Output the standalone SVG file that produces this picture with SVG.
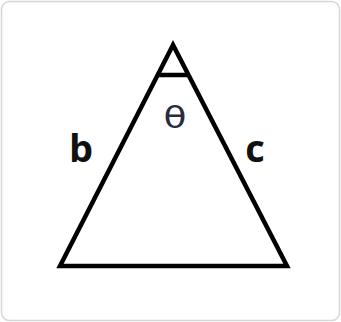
<svg xmlns="http://www.w3.org/2000/svg" width="341" height="322" viewBox="0 0 341 322">
<style>
.edge{fill:none;stroke:#000;stroke-width:4.5;stroke-linejoin:miter;stroke-linecap:square}
.lbl{font-family:"Open Sans","DejaVu Sans",sans-serif;font-weight:bold;fill:#111}
.th{font-family:"DejaVu Sans",sans-serif;fill:#2a2a40}
</style>
<rect x="1.5" y="1.5" width="338" height="319" rx="8" fill="#fff" stroke="#d6d6d6" stroke-width="1.5"/>
<g id="connectors">
<polygon class="edge" points="173,45 60,266 287,266"/>
<line class="edge" x1="159" y1="75" x2="187" y2="75" stroke-linecap="butt"/>
</g>
<g id="theta"><text class="th" transform="translate(175,128) scale(1.25,1)" x="0" y="0" font-size="30" text-anchor="middle">θ</text></g>
<g id="b"><text class="lbl" x="81" y="162" font-size="38" text-anchor="middle">b</text></g>
<g id="c"><text class="lbl" x="255" y="162" font-size="38" text-anchor="middle">c</text></g>
</svg>
